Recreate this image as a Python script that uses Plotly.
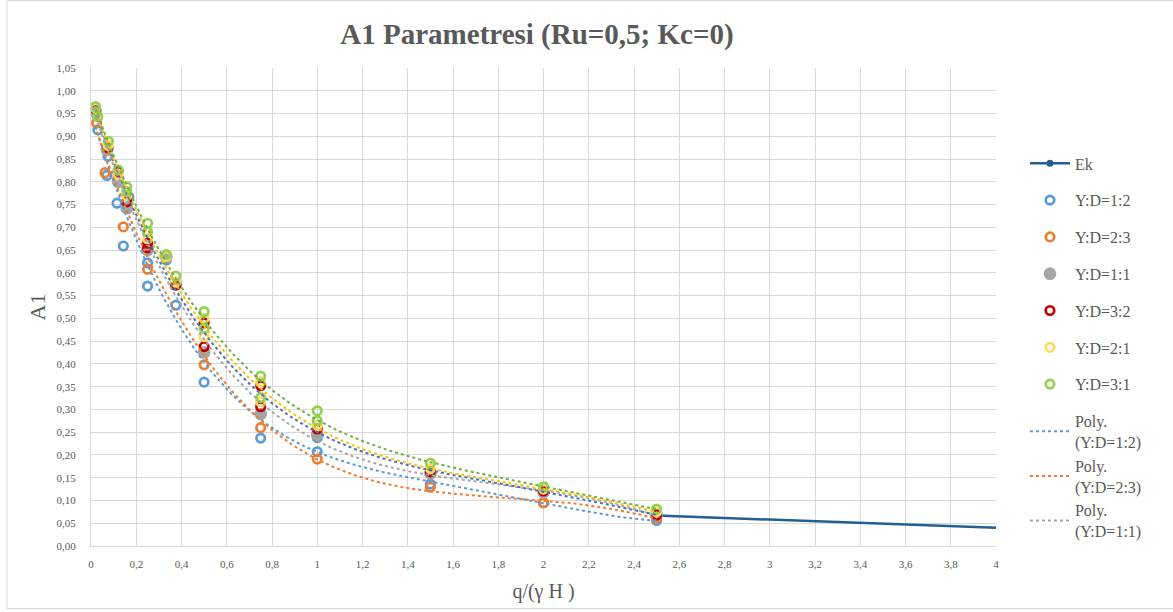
import numpy as np
import plotly.graph_objects as go

# Ek (reference curve)
ek_x = [2.5, 3.0, 3.5, 4.0]
ek_y = [0.067, 0.058, 0.049, 0.040]

# Y:D series
yd12_x = [0.02, 0.03, 0.075, 0.07, 0.115, 0.167, 0.143, 0.25, 0.25, 0.333, 0.375, 0.5, 0.75, 1.0, 1.0, 1.5, 2.0, 2.5]
yd12_y = [0.951, 0.914, 0.856, 0.814, 0.753, 0.767, 0.659, 0.622, 0.571, 0.628, 0.529, 0.360, 0.237, 0.238, 0.207, 0.136, 0.095, 0.056]

yd23_x = [0.025, 0.07, 0.062, 0.12, 0.143, 0.25, 0.25, 0.375, 0.5, 0.75, 1.0, 1.5, 2.0, 2.5]
yd23_y = [0.929, 0.874, 0.820, 0.811, 0.701, 0.608, 0.650, 0.575, 0.398, 0.260, 0.191, 0.129, 0.095, 0.061]

yd11_x = [0.02, 0.07, 0.12, 0.158, 0.25, 0.333, 0.375, 0.5, 0.75, 1.0, 1.5, 2.0, 2.5]
yd11_y = [0.955, 0.870, 0.800, 0.742, 0.650, 0.635, 0.575, 0.425, 0.290, 0.245, 0.160, 0.118, 0.068]

yd32_x = [0.02, 0.075, 0.12, 0.158, 0.25, 0.25, 0.333, 0.375, 0.5, 0.5, 0.75, 0.75, 1.0, 1.5, 2.0, 2.5]
yd32_y = [0.960, 0.875, 0.823, 0.756, 0.665, 0.655, 0.637, 0.573, 0.438, 0.490, 0.306, 0.352, 0.257, 0.163, 0.121, 0.068]

yd21_x = [0.02, 0.075, 0.12, 0.158, 0.25, 0.25, 0.333, 0.375, 0.5, 0.5, 0.75, 0.75, 1.0, 1.5, 2.0, 2.5]
yd21_y = [0.962, 0.880, 0.815, 0.770, 0.690, 0.675, 0.636, 0.580, 0.460, 0.500, 0.317, 0.361, 0.265, 0.170, 0.125, 0.075]

yd31_x = [0.02, 0.03, 0.077, 0.12, 0.158, 0.158, 0.25, 0.25, 0.333, 0.375, 0.5, 0.5, 0.75, 0.75, 1.0, 1.0, 1.5, 2.0, 2.5]
yd31_y = [0.965, 0.943, 0.889, 0.826, 0.789, 0.778, 0.709, 0.690, 0.640, 0.593, 0.515, 0.478, 0.373, 0.326, 0.297, 0.275, 0.182, 0.130, 0.081]

series = [
    ("Y:D=1:2", yd12_x, yd12_y, "#5B9BD5", "circle-open", "#5B9BD5"),
    ("Y:D=2:3", yd23_x, yd23_y, "#ED7D31", "circle-open", "#ED7D31"),
    ("Y:D=1:1", yd11_x, yd11_y, "#A5A5A5", "circle", "#A5A5A5"),
    ("Y:D=3:2", yd32_x, yd32_y, "#C00000", "circle-open", "#4472C4"),
    ("Y:D=2:1", yd21_x, yd21_y, "#FFD966", "circle-open", "#FFC000"),
    ("Y:D=3:1", yd31_x, yd31_y, "#92D050", "circle-open", "#70AD47"),
]

SERIF = "Liberation Serif"

fig = go.Figure()

# Ek line (legend entry drawn separately so it gets a marker)
fig.add_trace(go.Scatter(x=ek_x, y=ek_y, mode="lines", line=dict(color="#255E91", width=2.5),
                         showlegend=False))
fig.add_trace(go.Scatter(x=[None], y=[None], mode="lines+markers", name="Ek",
                         line=dict(color="#255E91", width=2.5), marker=dict(size=7, color="#255E91"),
                         legendgroup="ek"))

for name, xs, ys, col, sym, tcol in series:
    fig.add_trace(go.Scatter(
        x=xs, y=ys, mode="markers", name=name, legendgroup=name,
        marker=dict(symbol=sym, size=8.5 if sym == "circle-open" else 10, color=col,
                    line=dict(color=col, width=2.7))
    ))

# Polynomial trendlines
for i, (name, xs, ys, col, sym, tcol) in enumerate(series):
    coef = np.polyfit(xs, ys, 4)
    tx = np.linspace(min(xs), max(xs), 200)
    fig.add_trace(go.Scatter(
        x=tx, y=np.polyval(coef, tx), mode="lines", name="Poly.<br>(" + name + ")",
        line=dict(color=tcol, width=2, dash="dot"),
        legendgroup="poly", showlegend=i < 3
    ))

fig.update_layout(
    width=1173, height=612,
    paper_bgcolor="white", plot_bgcolor="white",
    margin=dict(l=91, r=177, t=68, b=66, autoexpand=False),
    separators=", ",
    font=dict(family=SERIF, color="#595959"),
    title=dict(text="<b>A1 Parametresi (Ru=0,5; Kc=0)</b>", x=(537 - 91) / 905, xref="paper",
               xanchor="center", y=1 - 34 / 612, yref="container", yanchor="middle",
               font=dict(family=SERIF, size=29, color="#595959")),
    legend=dict(x=1.032, y=0.836, xanchor="left", yanchor="top", itemwidth=40,
                font=dict(family=SERIF, size=16, color="#595959"), tracegroupgap=13,
                bgcolor="rgba(0,0,0,0)"),
    showlegend=True,
    shapes=[dict(type="rect", xref="paper", yref="paper",
                 x0=-84 / 905, x1=1180 / 905 - 91 / 905, y0=-62.5 / 478, y1=67.5 / 478 + 1,
                 line=dict(color="#d9d9d9", width=1), layer="below")],
)

fig.update_xaxes(range=[0, 4], dtick=0.2, tick0=0, showgrid=True, gridcolor="#d9d9d9",
                 showline=True, linecolor="#d9d9d9", zeroline=False, automargin=False,
                 tickfont=dict(family=SERIF, size=11, color="#595959"), ticklabelstandoff=8,
                 title=dict(text="q/(γ H )", font=dict(family=SERIF, size=20, color="#595959"),
                            standoff=14))
fig.update_yaxes(range=[0, 1.05], dtick=0.05, tick0=0, tickformat=".2f", showgrid=True,
                 gridcolor="#d9d9d9", showline=True, linecolor="#d9d9d9", zeroline=False,
                 automargin=False,
                 tickfont=dict(family=SERIF, size=11, color="#595959"), ticklabelstandoff=12,
                 title=dict(text="A1", font=dict(family=SERIF, size=22, color="#595959"),
                            standoff=4))

# page body has a default 8px margin; drop it so the figure sits at the window origin
fig.write_html("out.html", config={"displayModeBar": False},
               post_script="document.body.style.margin='0';")
